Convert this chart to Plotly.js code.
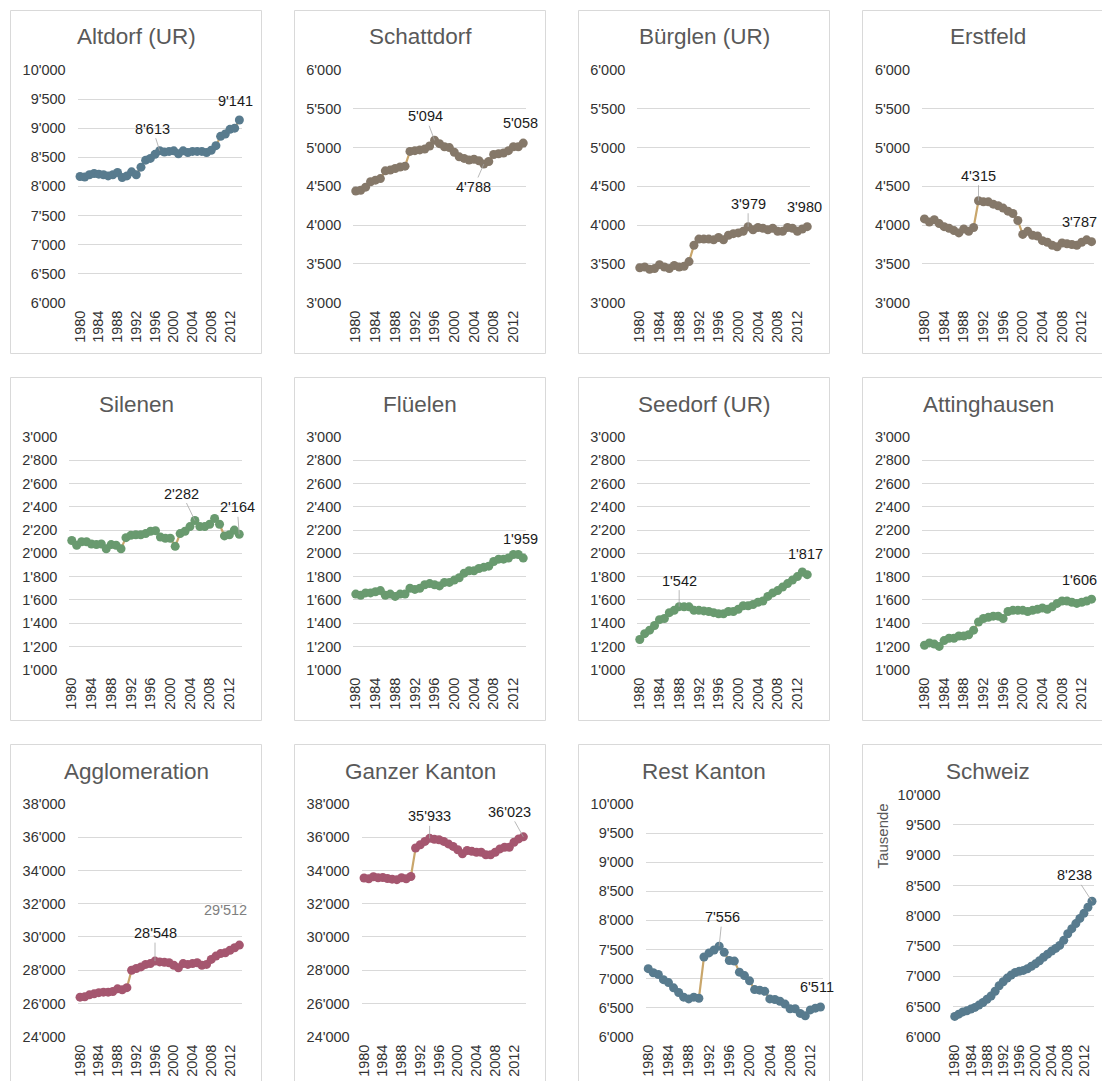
<!DOCTYPE html>
<html>
<head>
<meta charset="utf-8">
<script src="https://cdn.plot.ly/plotly-3.0.1.min.js"></script>
<style>html,body{margin:0;padding:0;background:#fff}#chart{width:1102px;height:1081px}</style>
</head>
<body>
<div id="chart"></div>
<script>
// ---------- DATA ----------
const years = [1980,1981,1982,1983,1984,1985,1986,1987,1988,1989,1990,1991,1992,1993,1994,1995,1996,1997,1998,1999,2000,2001,2002,2003,2004,2005,2006,2007,2008,2009,2010,2011,2012,2013,2014];
const tickYears = [1980,1984,1988,1992,1996,2000,2004,2008,2012];
const tickLabels = ['1980','1984','1988','1992','1996','2000','2004','2008','2012'];

const altdorf = [8170,8160,8200,8220,8210,8200,8180,8200,8240,8150,8180,8250,8200,8330,8450,8480,8550,8613,8590,8600,8610,8560,8610,8580,8600,8600,8600,8580,8620,8700,8860,8900,8980,9000,9141];
const schattdorf = [4440,4450,4490,4560,4580,4600,4700,4710,4730,4750,4760,4950,4960,4970,4980,5020,5094,5050,5010,5000,4940,4880,4860,4840,4850,4830,4788,4820,4910,4920,4930,4960,5010,5010,5058];
const buerglen = [3450,3460,3430,3440,3490,3460,3440,3480,3460,3470,3530,3740,3820,3820,3820,3810,3840,3810,3870,3890,3900,3920,3979,3940,3970,3960,3940,3960,3920,3920,3970,3960,3920,3950,3980];
const erstfeld = [4080,4040,4070,4020,3980,3960,3930,3900,3950,3920,3970,4315,4300,4300,4270,4250,4220,4180,4150,4060,3880,3920,3870,3860,3800,3780,3740,3720,3770,3760,3750,3740,3780,3810,3787];
const silenen = [2110,2070,2100,2100,2080,2075,2080,2040,2075,2070,2040,2135,2155,2160,2160,2170,2190,2195,2140,2130,2130,2060,2170,2190,2230,2282,2230,2230,2250,2300,2250,2150,2160,2200,2164];
const flueelen = [1650,1640,1660,1660,1670,1680,1640,1650,1630,1650,1650,1700,1690,1700,1730,1740,1730,1720,1750,1750,1770,1790,1830,1850,1850,1870,1880,1890,1930,1950,1950,1960,1990,1990,1959];
const seedorf = [1260,1310,1340,1380,1430,1440,1490,1510,1542,1540,1540,1510,1510,1505,1500,1490,1480,1480,1500,1500,1520,1550,1550,1560,1580,1590,1630,1660,1680,1710,1740,1770,1800,1840,1817];
const attinghausen = [1210,1230,1220,1200,1250,1270,1270,1290,1290,1300,1340,1410,1440,1450,1460,1460,1440,1500,1510,1510,1510,1500,1510,1520,1530,1520,1540,1570,1590,1590,1580,1570,1580,1590,1606];
const agglomeration = [26380,26400,26520,26580,26650,26680,26680,26720,26880,26820,26950,28000,28100,28200,28350,28400,28548,28500,28480,28450,28300,28150,28400,28350,28400,28450,28300,28350,28650,28850,29000,29050,29200,29350,29512];
const ganzerKanton = [33550,33500,33620,33560,33580,33520,33480,33450,33560,33500,33640,35350,35550,35750,35933,35880,35850,35750,35600,35450,35250,35000,35200,35150,35100,35100,34950,34950,35100,35300,35400,35400,35700,35900,36023];
const restKanton = [7170,7100,7070,6980,6930,6840,6760,6680,6650,6680,6660,7370,7440,7490,7556,7450,7310,7300,7110,7050,6960,6810,6800,6780,6650,6640,6610,6560,6480,6480,6400,6360,6460,6490,6511];
const schweiz = [6335,6372,6410,6428,6456,6484,6523,6566,6619,6673,6751,6843,6908,6969,7019,7062,7081,7096,7124,7164,7204,7256,7314,7364,7415,7459,7509,7593,7702,7786,7870,7955,8039,8139,8238];

// ---------- STYLE / LAYOUT ----------
const W = 1102, H = 1081;
const BLUE = '#587b8e', BROWN = '#857869', GREEN = '#699a6f', MAUVE = '#a5566f';
const LINE = '#c9a66b';
const FONT = 'Liberation Sans, Arial, sans-serif';
const TICKCOL = '#333333';

const panels = [
  {title:'Altdorf (UR)', y:altdorf, color:BLUE, yr:[6000,10000], dt:500, px:[77.7,241.7], py:[70,302.7], box:[10.5,10.5], tc:[136,37],
   labels:[[1997,-7,-22,true],[2014,-4,-19,false]]},
  {title:'Schattdorf', y:schattdorf, color:BROWN, yr:[3000,6000], dt:500, px:[353.3,525.7], py:[70,302.7], box:[294.5,10.5], tc:[420,37],
   labels:[[1996,-9,-24,true],[2006,-10,23,true],[2014,-3,-20,false]]},
  {title:'Bürglen (UR)', y:buerglen, color:BROWN, yr:[3000,6000], dt:500, px:[637.3,809.7], py:[70,302.7], box:[578.5,10.5], tc:[704,37],
   labels:[[2002,0,-23,true],[2014,-3,-20,false]]},
  {title:'Erstfeld', y:erstfeld, color:BROWN, yr:[3000,6000], dt:500, px:[922,1094], py:[70,302.7], box:[862.5,10.5], tc:[988,37],
   labels:[[1991,0,-25,true],[2014,-12,-20,false]]},
  {title:'Silenen', y:silenen, color:GREEN, yr:[1000,3000], dt:200, px:[69.3,241.7], py:[437,669.7], box:[10.5,377.5], tc:[136,404],
   labels:[[2005,-13,-27,true],[2014,-2,-27,true]]},
  {title:'Flüelen', y:flueelen, color:GREEN, yr:[1000,3000], dt:200, px:[353.3,525.7], py:[437,669.7], box:[294.5,377.5], tc:[420,404],
   labels:[[2014,-3,-19,false]]},
  {title:'Seedorf (UR)', y:seedorf, color:GREEN, yr:[1000,3000], dt:200, px:[637.3,809.7], py:[437,669.7], box:[578.5,377.5], tc:[704,404],
   labels:[[1988,0,-26,true],[2014,-2,-21,false]]},
  {title:'Attinghausen', y:attinghausen, color:GREEN, yr:[1000,3000], dt:200, px:[922,1094], py:[437,669.7], box:[862.5,377.5], tc:[988,404],
   labels:[[2014,-12,-19,false]]},
  {title:'Agglomeration', y:agglomeration, color:MAUVE, yr:[24000,38000], dt:2000, px:[77.7,241.7], py:[804,1036.7], box:[10.5,744.5], tc:[136,771],
   labels:[[1996,0,-28,true],[2014,-14,-35,false,'#7f7f7f']]},
  {title:'Ganzer Kanton', y:ganzerKanton, color:MAUVE, yr:[24000,38000], dt:2000, px:[361.7,525.7], py:[804,1036.7], box:[294.5,744.5], tc:[420,771],
   labels:[[1994,0,-22,true],[2014,-14,-25,true]]},
  {title:'Rest Kanton', y:restKanton, color:BLUE, yr:[6000,10000], dt:500, px:[645.7,823], py:[804,1036.7], box:[578.5,744.5], tc:[704,771],
   labels:[[1994,3,-29,true],[2014,-3,-20,false]]},
  {title:'Schweiz', y:schweiz, color:BLUE, yr:[6000,10000], dt:500, px:[952.7,1094], py:[794.7,1036.7], box:[862.5,744.5], tc:[988,771],
   labels:[[2014,-17,-26,true]]}
];

function fmt(v){ return String(v).replace(/\B(?=(\d{3})+(?!\d))/g, "'"); }

const traces = [];
const layout = {
  width: W, height: H, autosize: false,
  margin: {l:0, r:0, t:0, b:0, pad:0},
  paper_bgcolor: '#ffffff', plot_bgcolor: 'rgba(0,0,0,0)',
  separators: ".'",
  showlegend: false,
  font: {family: FONT, color: TICKCOL, size: 14.5},
  shapes: [], annotations: []
};

panels.forEach((p, k) => {
  const n = k === 0 ? '' : String(k + 1);
  const xa = 'x' + n, ya = 'y' + n;
  traces.push({
    type: 'scatter', mode: 'lines+markers',
    x: years, y: p.y, xaxis: xa, yaxis: ya,
    line: {color: LINE, width: 2.2},
    marker: {color: p.color, size: 9, line: {color: p.color, width: 0}},
    cliponaxis: false, hoverinfo: 'skip'
  });
  layout['xaxis' + n] = {
    domain: [p.px[0] / W, p.px[1] / W], anchor: ya,
    range: [1979.5, 2014.5], tickmode: 'array', tickvals: tickYears, ticktext: tickLabels,
    tickangle: -90, showgrid: false, zeroline: false, showline: false, ticks: '',
    tickfont: {family: FONT, size: 14.5, color: TICKCOL}, ticklabelstandoff: 4, fixedrange: true
  };
  layout['yaxis' + n] = {
    domain: [1 - p.py[1] / H, 1 - p.py[0] / H], anchor: xa,
    range: p.yr, tickmode: 'linear', tick0: p.yr[0], dtick: p.dt, tickformat: ',',
    showgrid: true, gridcolor: '#d9d9d9', gridwidth: 1, zeroline: false, showline: false, ticks: '',
    tickfont: {family: FONT, size: 14.5, color: TICKCOL}, ticklabelstandoff: 11, fixedrange: true
  };
  // panel frame
  layout.shapes.push({
    type: 'rect', xref: 'paper', yref: 'paper', layer: 'below',
    x0: p.box[0] / W, x1: (p.box[0] + 251) / W,
    y0: 1 - (p.box[1] + 343) / H, y1: 1 - p.box[1] / H,
    line: {color: '#d9d9d9', width: 1}, fillcolor: 'rgba(0,0,0,0)'
  });
  // panel title
  layout.annotations.push({
    xref: 'paper', yref: 'paper', x: p.tc[0] / W, y: 1 - p.tc[1] / H,
    xanchor: 'center', yanchor: 'middle', showarrow: false,
    text: p.title, font: {family: FONT, size: 22.5, color: '#595959'}
  });
  // data labels
  p.labels.forEach(l => {
    const idx = years.indexOf(l[0]);
    const v = p.y[idx];
    const a = {
      xref: xa, yref: ya, x: l[0], y: v, text: fmt(v),
      font: {family: FONT, size: 14.5, color: l[4] || '#1a1a1a'}
    };
    if (l[3]) {
      Object.assign(a, {showarrow: true, arrowhead: 0, arrowwidth: 0.8, arrowcolor: '#a6a6a6',
        ax: l[1], ay: l[2], standoff: 0});
    } else {
      Object.assign(a, {showarrow: false, xshift: l[1], yshift: -l[2]});
    }
    layout.annotations.push(a);
  });
});

// y-axis title of the Schweiz panel
layout.annotations.push({
  xref: 'paper', yref: 'paper', x: 882.7 / W, y: 1 - 835.7 / H,
  xanchor: 'center', yanchor: 'middle', showarrow: false, textangle: -90,
  text: 'Tausende', font: {family: FONT, size: 15, color: '#595959'}
});

Plotly.newPlot('chart', traces, layout, {staticPlot: true, displayModeBar: false});
</script>
</body>
</html>
